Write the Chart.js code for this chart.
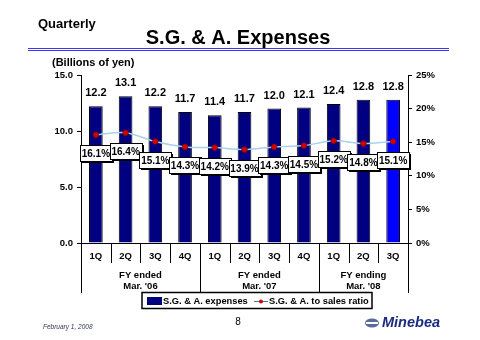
<!DOCTYPE html>
<html>
<head>
<meta charset="utf-8">
<script src="https://cdn.jsdelivr.net/npm/chart.js@4"></script>
<style>
  html, body { margin: 0; padding: 0; background: #fff; }
  #wrap { position: relative; width: 480px; height: 340px; }
</style>
</head>
<body>
<div id="wrap"><canvas id="chartSGA" width="480" height="340"></canvas></div>
<script>
// Datos
const quarters = ["1Q", "2Q", "3Q", "4Q", "1Q", "2Q", "3Q", "4Q", "1Q", "2Q", "3Q"];
const sgaExpenses = [12.2, 13.1, 12.2, 11.7, 11.4, 11.7, 12.0, 12.1, 12.4, 12.8, 12.8];
const sgaRatio = [16.1, 16.4, 15.1, 14.3, 14.2, 13.9, 14.3, 14.5, 15.2, 14.8, 15.1];
const fiscalYears = [
    ["FY ended", "Mar. '06"],
    ["FY ended", "Mar. '07"],
    ["FY ending", "Mar. '08"]
];
const leftTicks = [0, 5, 10, 15];
const rightTicks = [0, 5, 10, 15, 20, 25];

const colores = {
    navy: "#000080",
    azul: "#0000ff",
    linea: "#a8d0f0",
    punto: "#d40000",
    titulo: "#3838f0"
};

const FONT = "'Liberation Sans', Arial, sans-serif";

// Decoraciones: título, etiquetas, eje inferior, leyenda, pie
const decoraciones = {
    id: "decoraciones",
    afterDraw(chart) {
        const ctx = chart.ctx;
        const x = chart.scales.x;
        const area = chart.chartArea;
        ctx.save();
        ctx.fillStyle = "#000";
        ctx.textBaseline = "middle";

        // encabezado
        ctx.font = "bold 13px " + FONT;
        ctx.textAlign = "left";
        ctx.fillText("Quarterly", 38, 24);
        ctx.font = "bold 20px " + FONT;
        ctx.textAlign = "center";
        ctx.fillText("S.G. & A. Expenses", 238, 38);
        ctx.strokeStyle = colores.titulo;
        ctx.lineWidth = 1;
        ctx.beginPath();
        ctx.moveTo(28, 48.5); ctx.lineTo(449, 48.5);
        ctx.moveTo(28, 50.5); ctx.lineTo(449, 50.5);
        ctx.stroke();
        ctx.font = "bold 11px " + FONT;
        ctx.textAlign = "left";
        ctx.fillText("(Billions of yen)", 52, 63);

        // eje inferior
        const step = x.getPixelForValue(1) - x.getPixelForValue(0);
        ctx.strokeStyle = "#000";
        ctx.lineWidth = 1;
        ctx.beginPath();
        for (let i = 0; i <= quarters.length; i++) {
            const px = Math.round(x.getPixelForValue(i) - step / 2) + 0.5;
            const largo = (i % 4 === 0 || i === quarters.length) ? 50 : 20;
            ctx.moveTo(px, area.bottom);
            ctx.lineTo(px, area.bottom + largo);
        }
        ctx.stroke();
        ctx.font = "bold 9.5px " + FONT;
        ctx.textAlign = "center";
        quarters.forEach((q, i) => ctx.fillText(q, x.getPixelForValue(i), 256));
        fiscalYears.forEach((fy, g) => {
            const a = g * 4;
            const b = Math.min(a + 3, quarters.length - 1);
            const cx = (x.getPixelForValue(a) + x.getPixelForValue(b)) / 2;
            ctx.fillText(fy[0], cx, 275);
            ctx.fillText(fy[1], cx, 286);
        });

        // leyenda
        ctx.lineWidth = 1.5;
        ctx.strokeRect(142, 292.5, 230, 16);
        ctx.fillStyle = colores.navy;
        ctx.fillRect(147, 297, 15, 8);
        ctx.fillStyle = "#000";
        ctx.font = "bold 9.3px " + FONT;
        ctx.textAlign = "left";
        ctx.fillText("S.G. & A. expenses", 163, 301);
        ctx.strokeStyle = "#4a78b0";
        ctx.lineWidth = 1;
        ctx.beginPath();
        ctx.moveTo(254, 301.5); ctx.lineTo(268, 301.5);
        ctx.stroke();
        ctx.fillStyle = colores.punto;
        ctx.beginPath();
        ctx.arc(261, 301.5, 2, 0, Math.PI * 2);
        ctx.fill();
        ctx.fillStyle = "#000";
        ctx.fillText("S.G. & A. to sales ratio", 269, 301);

        // pie de página
        ctx.fillStyle = "#333355";
        ctx.font = "italic 6.5px " + FONT;
        ctx.fillText("February 1, 2008", 43, 327);
        ctx.fillStyle = "#000";
        ctx.font = "10px " + FONT;
        ctx.textAlign = "center";
        ctx.fillText("8", 238, 322);
        ctx.fillStyle = "#5a6a9a";
        ctx.beginPath();
        ctx.ellipse(372, 323, 7, 4.5, 0, 0, Math.PI * 2);
        ctx.fill();
        ctx.fillStyle = "#fff";
        ctx.fillRect(366, 322, 12, 2);
        ctx.fillStyle = "#1a2a80";
        ctx.font = "italic bold 14.5px " + FONT;
        ctx.textAlign = "left";
        ctx.fillText("Minebea", 382, 323);
        ctx.restore();
    },
    afterDatasetsDraw(chart) {
        const ctx = chart.ctx;
        ctx.save();
        ctx.textBaseline = "middle";
        ctx.textAlign = "center";

        // valores de barras
        const barras = chart.getDatasetMeta(0).data;
        ctx.font = "bold 11px " + FONT;
        ctx.fillStyle = "#000";
        barras.forEach((b, i) => {
            ctx.fillText(sgaExpenses[i].toFixed(1), b.x, b.y - 13);
        });

        // etiquetas de ratio
        const puntos = chart.getDatasetMeta(1).data;
        ctx.font = "bold 10px " + FONT;
        puntos.forEach((p, i) => {
            const w = 32, h = 16;
            const bx = Math.round(p.x - w / 2) + 0.5;
            const by = Math.round(p.y + 10) + 0.5;
            ctx.fillStyle = "#000";
            ctx.fillRect(bx + 1.5, by + 1.5, w, h);
            ctx.fillStyle = "#fff";
            ctx.fillRect(bx, by, w, h);
            ctx.strokeStyle = "#000";
            ctx.lineWidth = 1;
            ctx.strokeRect(bx, by, w, h);
            ctx.fillStyle = "#000";
            ctx.fillText(sgaRatio[i].toFixed(1) + "%", p.x, by + h / 2 + 0.5);
        });
        ctx.restore();
    }
};

new Chart(document.getElementById("chartSGA"), {
    type: "bar",
    data: {
        labels: quarters,
        datasets: [
            {
                label: "S.G. & A. expenses",
                data: sgaExpenses,
                backgroundColor: sgaExpenses.map((v, i) => i === sgaExpenses.length - 1 ? colores.azul : colores.navy),
                borderColor: "#000",
                borderWidth: 1,
                categoryPercentage: 1,
                barPercentage: 0.46,
                yAxisID: "y",
                order: 2
            },
            {
                type: "line",
                label: "S.G. & A. to sales ratio",
                data: sgaRatio,
                borderColor: colores.linea,
                borderWidth: 1.5,
                tension: 0.3,
                pointRadius: 2.8,
                pointBackgroundColor: colores.punto,
                pointBorderColor: "#800000",
                pointBorderWidth: 0.8,
                yAxisID: "y1",
                order: 1
            }
        ]
    },
    options: {
        responsive: false,
        animation: false,
        events: [],
        layout: { padding: { top: 75, bottom: 0, left: 0, right: 0 } },
        plugins: {
            legend: { display: false },
            tooltip: { enabled: false }
        },
        scales: {
            x: {
                ticks: { display: false },
                grid: { display: false },
                border: { display: true, color: "#000", width: 1 },
                afterFit: s => { s.height = 97; }
            },
            y: {
                position: "left",
                min: 0,
                max: 15,
                afterBuildTicks: s => { s.ticks = leftTicks.map(v => ({ value: v })); },
                ticks: {
                    callback: v => v.toFixed(1),
                    color: "#000",
                    font: { family: FONT, size: 9.5, weight: "bold" },
                    padding: 4
                },
                grid: { drawOnChartArea: false, tickLength: 4, color: "#000" },
                border: { color: "#000", width: 1 },
                afterFit: s => { s.width = 81; }
            },
            y1: {
                position: "right",
                min: 0,
                max: 25,
                afterBuildTicks: s => { s.ticks = rightTicks.map(v => ({ value: v })); },
                ticks: {
                    callback: v => v + "%",
                    color: "#000",
                    font: { family: FONT, size: 9.5, weight: "bold" },
                    padding: 4
                },
                grid: { drawOnChartArea: false, tickLength: 4, color: "#000" },
                border: { color: "#000", width: 1 },
                afterFit: s => { s.width = 72; }
            }
        }
    },
    plugins: [decoraciones]
});
</script>
</body>
</html>
